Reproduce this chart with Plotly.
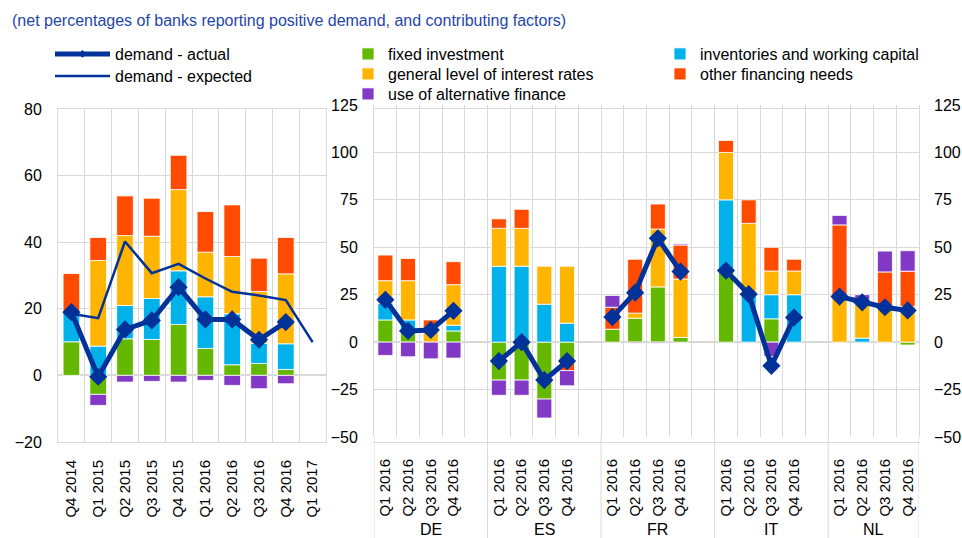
import plotly.graph_objects as go

# euro area panel
quarters_ea = ["Q4 2014", "Q1 2015", "Q2 2015", "Q3 2015", "Q4 2015",
               "Q1 2016", "Q2 2016", "Q3 2016", "Q4 2016", "Q1 2017"]
fixed_ea = [10.1, -5.7, 11.0, 10.8, 15.3, 8.1, 3.2, 3.6, 1.8, None]
inventories_ea = [9.0, 8.8, 10.0, 12.3, 16.1, 15.5, 15.3, 6.0, 7.7, None]
interest_ea = [None, 25.7, 21.0, 18.7, 24.4, 13.4, 17.2, 15.6, 21.0, None]
other_ea = [11.5, 6.9, 11.9, 11.4, 10.3, 12.2, 15.5, 10.0, 10.9, None]
altfin_ea = [None, -3.3, -2.0, -1.8, -2.0, -1.5, -3.0, -4.0, -2.5, None]
actual_ea = [19.0, -0.4, 13.8, 16.5, 26.5, 16.8, 16.8, 10.7, 16.0, None]
expected_ea = [18.5, 17.2, 40.2, 30.7, 33.5, 29.1, 25.1, 24.0, 22.6, 10.0]

# country panel, Q1-Q4 2016
countries = ["DE", "ES", "FR", "IT", "NL"]
quarters_c = ["Q1 2016", "Q2 2016", "Q3 2016", "Q4 2016"]
fixed_c = {"DE": [11.7, 5.9, None, 5.9], "ES": [-20, -20, -30, -10],
           "FR": [6.8, 12.6, 29.1, 2.5], "IT": [37.7, None, 12.3, None],
           "NL": [None, None, None, -1.5]}
inventories_c = {"DE": [8.9, 5.8, None, 3.0], "ES": [40, 40, 20, 10],
                 "FR": [None, None, None, None], "IT": [37.3, 25, 12.7, 25],
                 "NL": [None, 2.1, None, None]}
interest_c = {"DE": [11.8, 20.7, 6.7, 21.4], "ES": [20, 20, 20, 30],
              "FR": [None, 2.7, 30.5, 30.8], "IT": [25, 37.6, 12.5, 12.5],
              "NL": [24.0, 20.2, 18.8, 18.8]}
other_c = {"DE": [13.5, 11.7, 5.0, 12.1], "ES": [5, 10, None, -5],
           "FR": [11.6, 28.4, 13.2, 17.9], "IT": [6.3, 12.4, 12.5, 6.2],
           "NL": [37.8, None, 18.2, 18.6]}
altfin_c = {"DE": [-7.0, -7.7, -8.8, -8.4], "ES": [-8, -8, -10, -8],
            "FR": [6.2, -0.5, -0.5, 0.6], "IT": [None, None, -7.5, None],
            "NL": [5.0, 2.7, 11.0, 10.8]}
actual_c = {"DE": [22.3, 5.9, 6.4, 16.5], "ES": [-10, 0, -20, -10],
            "FR": [13.2, 26.1, 54.7, 37.2], "IT": [37.7, 25.3, -12.5, 13.0],
            "NL": [24.0, 21.0, 18.4, 16.7]}

colors = {"fixed": "#65B800", "inv": "#00B1EA", "int": "#FFB400",
          "other": "#FF4B00", "alt": "#8139C6", "line": "#003299"}
names = {"fixed": "fixed investment", "inv": "inventories and working capital",
         "int": "general level of interest rates", "other": "other financing needs",
         "alt": "use of alternative finance"}

FONT = "Liberation Sans, Arial, sans-serif"
GRID = "#d9d9d9"
W, H = 962, 538

# one legend per item so each sits where the original puts it (pixel x, y)
legend_spots = {"actual": (50, 54), "expected": (50, 76),
                "fixed": (348, 54), "int": (348, 74), "alt": (348, 94),
                "inv": (660, 54), "other": (660, 74)}
legend_ids = {k: ("legend" if i == 0 else "legend%d" % (i + 1))
              for i, k in enumerate(legend_spots)}

# x positions in the country panel: 4 quarters per country plus one empty slot
slot = len(quarters_c) + 1
pos_c, tick_c = [], []
for g, c in enumerate(countries):
    pos_c.append([g * slot + q for q in range(len(quarters_c))])
    tick_c += quarters_c

fig = go.Figure()

series_ea = {"fixed": fixed_ea, "inv": inventories_ea, "int": interest_ea,
             "other": other_ea, "alt": altfin_ea}
series_c = {"fixed": fixed_c, "inv": inventories_c, "int": interest_c,
            "other": other_c, "alt": altfin_c}

for key in ["fixed", "inv", "int", "other", "alt"]:
    fig.add_trace(go.Bar(x=quarters_ea, y=series_ea[key], name=names[key],
                         marker=dict(color=colors[key], line=dict(color="white", width=0.8)),
                         width=0.62, xaxis="x", yaxis="y",
                         legend=legend_ids[key], legendgroup=key))
    xs, ys = [], []
    for g, c in enumerate(countries):
        xs += pos_c[g]
        ys += series_c[key][c]
    fig.add_trace(go.Bar(x=xs, y=ys, name=names[key], showlegend=False,
                         marker=dict(color=colors[key], line=dict(color="white", width=0.8)),
                         width=0.66, xaxis="x2", yaxis="y2", legendgroup=key))

# demand lines
fig.add_trace(go.Scatter(x=quarters_ea, y=actual_ea, name="demand - actual",
                         mode="lines+markers", line=dict(color=colors["line"], width=5),
                         marker=dict(symbol="diamond", size=14, color=colors["line"]),
                         xaxis="x", yaxis="y", showlegend=False, legendgroup="actual"))
fig.add_trace(go.Scatter(x=[None], y=[None], name="demand - actual",
                         mode="lines+markers", line=dict(color=colors["line"], width=5),
                         marker=dict(symbol="diamond", size=6, color=colors["line"]),
                         xaxis="x", yaxis="y", legend=legend_ids["actual"],
                         legendgroup="actual"))
fig.add_trace(go.Scatter(x=quarters_ea, y=expected_ea, name="demand - expected",
                         mode="lines", line=dict(color=colors["line"], width=2.5),
                         xaxis="x", yaxis="y", legend=legend_ids["expected"]))
xs, ys = [], []
for g, c in enumerate(countries):
    xs += pos_c[g] + [None]
    ys += actual_c[c] + [None]
fig.add_trace(go.Scatter(x=xs, y=ys, showlegend=False, mode="lines+markers",
                         line=dict(color=colors["line"], width=5),
                         marker=dict(symbol="diamond", size=14, color=colors["line"]),
                         xaxis="x2", yaxis="y2", connectgaps=False, legendgroup="actual"))
# carrier for the right-hand axis labels
fig.add_trace(go.Scatter(x=[0], y=[0], mode="markers", marker=dict(opacity=0),
                         showlegend=False, hoverinfo="skip", xaxis="x2", yaxis="y3"))

tickfont = dict(family=FONT, size=16, color="#000000")
xtickfont = dict(family=FONT, size=15, color="#000000")

fig.update_layout(
    width=W, height=H, barmode="relative",
    margin=dict(l=0, r=0, t=0, b=0, autoexpand=False),
    plot_bgcolor="white", paper_bgcolor="white",
    font=dict(family=FONT, size=16, color="#000000"),
    xaxis=dict(domain=[58 / W, 326 / W], type="category", tickson="boundaries",
               showgrid=True, gridcolor=GRID, showline=True, mirror=True,
               linecolor=GRID, tickangle=-90, tickfont=xtickfont, ticks="",
               ticklabelstandoff=11, range=[-0.5, 9.5], automargin=False),
    yaxis=dict(domain=[1 - 442 / H, 1 - 109 / H], range=[-20, 80], dtick=20,
               showgrid=True, gridcolor=GRID, zeroline=True, zerolinecolor=GRID,
               zerolinewidth=2, showline=True, mirror=True, linecolor=GRID,
               tickfont=tickfont, ticklabelstandoff=12, automargin=False),
    xaxis2=dict(domain=[374 / W, 919 / W], range=[-0.5, len(countries) * slot - 1.5],
                tickmode="array", tickvals=sum(pos_c, []), ticktext=tick_c,
                showgrid=False, showline=True, mirror=True, linecolor=GRID,
                tickangle=-90, tickfont=xtickfont, ticklabelstandoff=10, zeroline=False,
                automargin=False,
                minor=dict(tick0=0.5, dtick=1, showgrid=True, gridcolor=GRID)),
    yaxis2=dict(domain=[1 - 437 / H, 1 - 105 / H], range=[-50, 125], dtick=25,
                anchor="x2", showgrid=True, gridcolor=GRID, zeroline=True,
                zerolinecolor=GRID, zerolinewidth=2, showline=True, mirror=True,
                linecolor=GRID, tickfont=tickfont, ticklabelstandoff=12,
                automargin=False),
    yaxis3=dict(overlaying="y2", side="right", anchor="x2", range=[-50, 125],
                dtick=25, showgrid=False, zeroline=False, tickfont=tickfont,
                ticklabelstandoff=14, automargin=False),
)

for key, (px, py) in legend_spots.items():
    fig.update_layout({legend_ids[key]: dict(
        x=px / W, y=1 - py / H, xanchor="left", yanchor="middle",
        bgcolor="rgba(0,0,0,0)", font=dict(family=FONT, size=16, color="#000000"),
        itemwidth=55 if key in ("actual", "expected") else 30)})

fig.add_annotation(text="(net percentages of banks reporting positive demand, and contributing factors)",
                   xref="paper", yref="paper", x=10 / W, y=1 - 20 / H,
                   xanchor="left", yanchor="middle", showarrow=False,
                   font=dict(family=FONT, size=16, color="#1f47a8"))

# country group labels and separators
bounds = [g * slot - 0.5 for g in range(len(countries))] + [len(countries) * slot - 1.5]
for g, c in enumerate(countries):
    fig.add_annotation(text=c, xref="x2", yref="paper",
                       x=(bounds[g] + bounds[g + 1]) / 2, y=1 - 529 / H,
                       showarrow=False, yanchor="middle", font=tickfont)
for b in bounds:
    fig.add_shape(type="line", xref="x2", yref="paper", x0=b, x1=b,
                  y0=0, y1=1 - 437 / H, line=dict(color=GRID, width=1))

fig.write_html("out.html", config={"displayModeBar": False},
               post_script="document.body.style.margin='0px';")
